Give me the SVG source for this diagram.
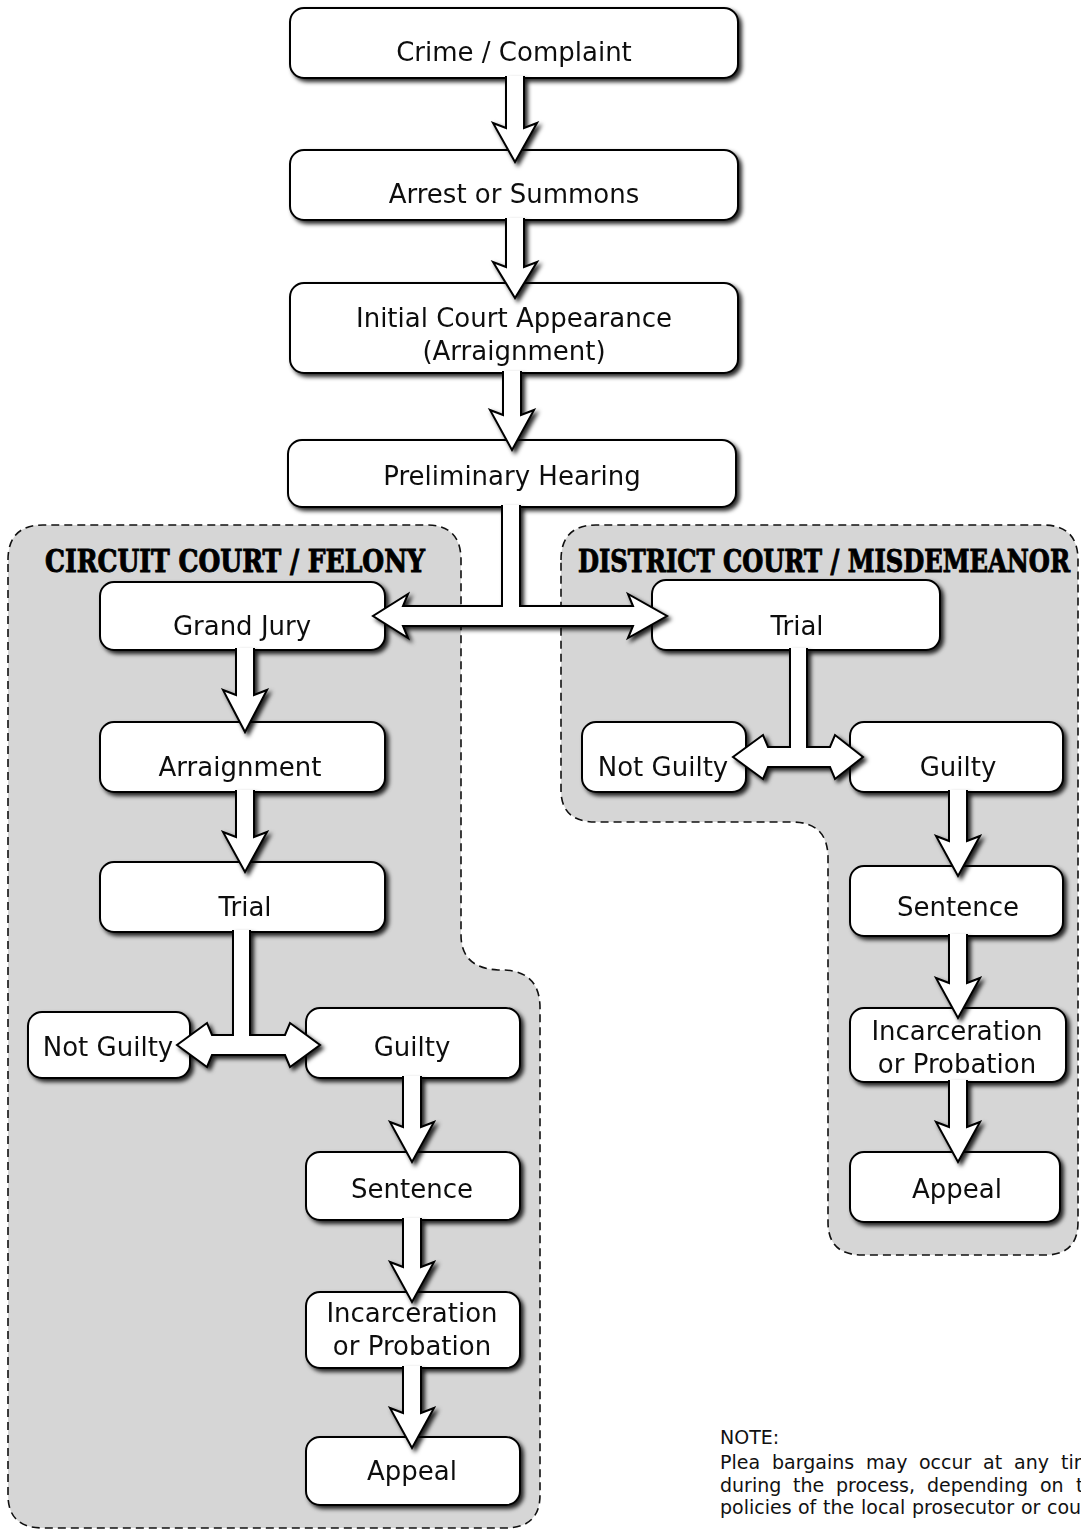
<svg xmlns="http://www.w3.org/2000/svg" width="1081" height="1531" viewBox="0 0 1081 1531">
<style>
.region{fill:#d6d6d6;stroke:#111;stroke-width:1.6;stroke-dasharray:8 5}
.hdr{font-family:"DejaVu Serif","Liberation Serif",serif;font-weight:bold;font-stretch:condensed;font-size:31px;fill:#000;stroke:#000;stroke-width:0.9}
.box{fill:#fff;stroke:#000;stroke-width:2}
.lbl{font-family:"DejaVu Sans","Liberation Sans",sans-serif;font-size:26px;fill:#111;text-anchor:middle}
.arr{fill:#fff;stroke:#000;stroke-width:2;stroke-linejoin:miter}
.note{font-family:"DejaVu Sans","Liberation Sans",sans-serif;font-size:19px;fill:#111}
</style>
<defs>
<filter id="sh" x="-10%" y="-10%" width="130%" height="150%">
<feDropShadow dx="3" dy="3" stdDeviation="2.2" flood-color="#000" flood-opacity="0.85"/>
</filter>
</defs>
<rect width="1081" height="1531" fill="#fff"/>
<g id="regions">
<g id="region-circuit">
<path class="region" d="M8,560 Q8,525 43,525 H427 Q461,525 461,560 V935 Q461,968 498,970 H505 Q540,972 540,1008 V1495 Q540,1528 505,1528 H43 Q8,1528 8,1495 Z"/>
<text class="hdr" x="45" y="572" textLength="380" lengthAdjust="spacingAndGlyphs">CIRCUIT COURT / FELONY</text>
</g>
<g id="region-district">
<path class="region" d="M561,560 Q561,525 596,525 H1043 Q1078,525 1078,560 V1222 Q1078,1255 1045,1255 H862 Q828,1255 828,1222 V858 Q828,822 792,822 H596 Q561,822 561,790 Z"/>
<text class="hdr" x="578" y="572" textLength="492" lengthAdjust="spacingAndGlyphs">DISTRICT COURT / MISDEMEANOR</text>
</g>
</g>
<g id="nodes" filter="url(#sh)">
<g id="n-crime"><rect class="box" x="290" y="8" width="448" height="70" rx="14"/><text class="lbl" x="514" y="61">Crime / Complaint</text></g>
<g id="n-arrest"><rect class="box" x="290" y="150" width="448" height="70" rx="14"/><text class="lbl" x="514" y="203">Arrest or Summons</text></g>
<g id="n-initial"><rect class="box" x="290" y="283" width="448" height="90" rx="14"/><text class="lbl" x="514" y="327">Initial Court Appearance</text><text class="lbl" x="514" y="360">(Arraignment)</text></g>
<g id="n-prelim"><rect class="box" x="288" y="440" width="448" height="67" rx="14"/><text class="lbl" x="512" y="485">Preliminary Hearing</text></g>
<g id="n-grandjury"><rect class="box" x="100" y="582" width="285" height="68" rx="14"/><text class="lbl" x="242" y="635">Grand Jury</text></g>
<g id="n-arraignment"><rect class="box" x="100" y="722" width="285" height="70" rx="14"/><text class="lbl" x="240" y="776">Arraignment</text></g>
<g id="n-trial-c"><rect class="box" x="100" y="862" width="285" height="70" rx="14"/><text class="lbl" x="245" y="916">Trial</text></g>
<g id="n-notguilty-c"><rect class="box" x="28" y="1012" width="162" height="66" rx="14"/><text class="lbl" x="108" y="1056">Not Guilty</text></g>
<g id="n-guilty-c"><rect class="box" x="306" y="1008" width="214" height="70" rx="14"/><text class="lbl" x="412" y="1056">Guilty</text></g>
<g id="n-sentence-c"><rect class="box" x="306" y="1152" width="214" height="68" rx="14"/><text class="lbl" x="412" y="1198">Sentence</text></g>
<g id="n-incarc-c"><rect class="box" x="306" y="1292" width="214" height="76" rx="14"/><text class="lbl" x="412" y="1322">Incarceration</text><text class="lbl" x="412" y="1355">or Probation</text></g>
<g id="n-appeal-c"><rect class="box" x="306" y="1437" width="214" height="68" rx="14"/><text class="lbl" x="412" y="1480">Appeal</text></g>
<g id="n-trial-d"><rect class="box" x="652" y="580" width="288" height="70" rx="14"/><text class="lbl" x="797" y="635">Trial</text></g>
<g id="n-notguilty-d"><rect class="box" x="582" y="722" width="164" height="70" rx="14"/><text class="lbl" x="663" y="776">Not Guilty</text></g>
<g id="n-guilty-d"><rect class="box" x="850" y="722" width="213" height="70" rx="14"/><text class="lbl" x="958" y="776">Guilty</text></g>
<g id="n-sentence-d"><rect class="box" x="850" y="866" width="213" height="70" rx="14"/><text class="lbl" x="958" y="916">Sentence</text></g>
<g id="n-incarc-d"><rect class="box" x="850" y="1008" width="216" height="74" rx="14"/><text class="lbl" x="957" y="1040">Incarceration</text><text class="lbl" x="957" y="1073">or Probation</text></g>
<g id="n-appeal-d"><rect class="box" x="850" y="1152" width="210" height="70" rx="14"/><text class="lbl" x="957" y="1198">Appeal</text></g>
</g>
<g id="connectors" filter="url(#sh)">
<path class="arr" d="M506,76 V128 L493,123 L515,162 L537,123 L524,128 V76"/>
<path class="arr" d="M506,218 V267 L493,262 L515,298 L537,262 L524,267 V218"/>
<path class="arr" d="M503,371 V415 L490,410 L512,450 L534,410 L521,415 V371"/>
<path class="arr" d="M502,505 V606 H403 L408,594 L373,616 L408,638 L403,626 H633 L628,638 L667,616 L628,594 L633,606 H520 V505"/>
<path class="arr" d="M236,648 V695 L223,690 L245,732 L267,690 L254,695 V648"/>
<path class="arr" d="M236,790 V837 L223,832 L245,872 L267,832 L254,837 V790"/>
<path class="arr" d="M233,930 V1035 H212 L207,1023 L177,1045 L207,1067 L212,1055 H285 L290,1067 L320,1045 L290,1023 L285,1035 H250 V930"/>
<path class="arr" d="M403,1076 V1127 L390,1122 L412,1162 L434,1122 L421,1127 V1076"/>
<path class="arr" d="M403,1218 V1267 L390,1262 L412,1302 L434,1262 L421,1267 V1218"/>
<path class="arr" d="M403,1366 V1413 L390,1408 L412,1448 L434,1408 L421,1413 V1366"/>
<path class="arr" d="M790,648 V747 H768 L763,735 L733,757 L763,779 L768,767 H830 L835,779 L863,757 L835,735 L830,747 H807 V648"/>
<path class="arr" d="M949,790 V841 L936,836 L958,876 L980,836 L967,841 V790"/>
<path class="arr" d="M949,934 V983 L936,978 L958,1018 L980,978 L967,983 V934"/>
<path class="arr" d="M949,1080 V1127 L936,1122 L958,1162 L980,1122 L967,1127 V1080"/>
</g>
<g id="note" class="note">
<text x="720" y="1444">NOTE:</text>
<text y="1469"><tspan x="720">Plea</tspan><tspan x="772">bargains</tspan><tspan x="866">may</tspan><tspan x="919">occur</tspan><tspan x="983">at</tspan><tspan x="1014">any</tspan><tspan x="1061">time</tspan></text>
<text y="1492"><tspan x="720">during</tspan><tspan x="793">the</tspan><tspan x="836">process,</tspan><tspan x="927">depending</tspan><tspan x="1040">on</tspan><tspan x="1076">the</tspan></text>
<text y="1514"><tspan x="720">policies</tspan><tspan x="798">of</tspan><tspan x="823">the</tspan><tspan x="861">local</tspan><tspan x="912">prosecutor</tspan><tspan x="1021">or</tspan><tspan x="1047">court.</tspan></text>
</g>
</svg>
